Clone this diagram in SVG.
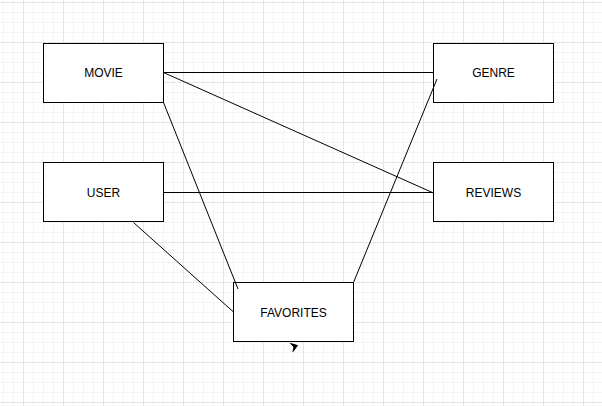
<svg xmlns="http://www.w3.org/2000/svg" width="602" height="406" viewBox="0 0 602 406">
<style>
.box{fill:#ffffff;stroke:#000000;stroke-width:1}
.lbl{font-family:"Liberation Sans",Arial,Helvetica,sans-serif;font-size:12px;fill:#000000;text-anchor:middle}
.edge{stroke:#000000;stroke-width:1;fill:none}
</style>
<defs>
<pattern id="grid" x="23" y="2" width="40" height="40" patternUnits="userSpaceOnUse">
<path d="M10.5 0V40M20.5 0V40M30.5 0V40M0 10.5H40M0 20.5H40M0 30.5H40" stroke="#f4f4f4" stroke-width="1" fill="none"/>
<path d="M0.5 0V40M0 0.5H40" stroke="#e5e5e5" stroke-width="1" fill="none"/>
</pattern>
</defs>
<rect x="0" y="0" width="602" height="406" fill="#ffffff"/>
<rect x="0" y="0" width="602" height="406" fill="url(#grid)"/>
<g id="movie"><rect class="box" x="43.5" y="43.5" width="120" height="59"/><text class="lbl" x="103.5" y="76.5">MOVIE</text></g>
<g id="genre"><rect class="box" x="433.5" y="43.5" width="120" height="59"/><text class="lbl" x="493.5" y="76.5">GENRE</text></g>
<g id="user"><rect class="box" x="43.5" y="162.5" width="120" height="59"/><text class="lbl" x="103.5" y="196.5">USER</text></g>
<g id="reviews"><rect class="box" x="433.5" y="162.5" width="120" height="59"/><text class="lbl" x="493.5" y="196.5">REVIEWS</text></g>
<g id="favorites"><rect class="box" x="233.5" y="282.5" width="120" height="59"/><text class="lbl" x="293.5" y="316.5">FAVORITES</text></g>
<g id="connectors">
<path class="edge" d="M163.5 72.5L433.5 72.5"/>
<path class="edge" d="M163.5 72.5L433.5 193"/>
<path class="edge" d="M163.5 192.5L433.5 192.5"/>
<path class="edge" d="M163.5 102.5L238 289"/>
<path class="edge" d="M133.5 222.5L233.5 312"/>
<path class="edge" d="M353.5 282.5L437 79"/>
<path d="M290.5 343.5L297.5 345.5L293 351.5L294 347Z" fill="#000000" stroke="#000000" stroke-width="1" stroke-linejoin="round"/>
</g>
</svg>
